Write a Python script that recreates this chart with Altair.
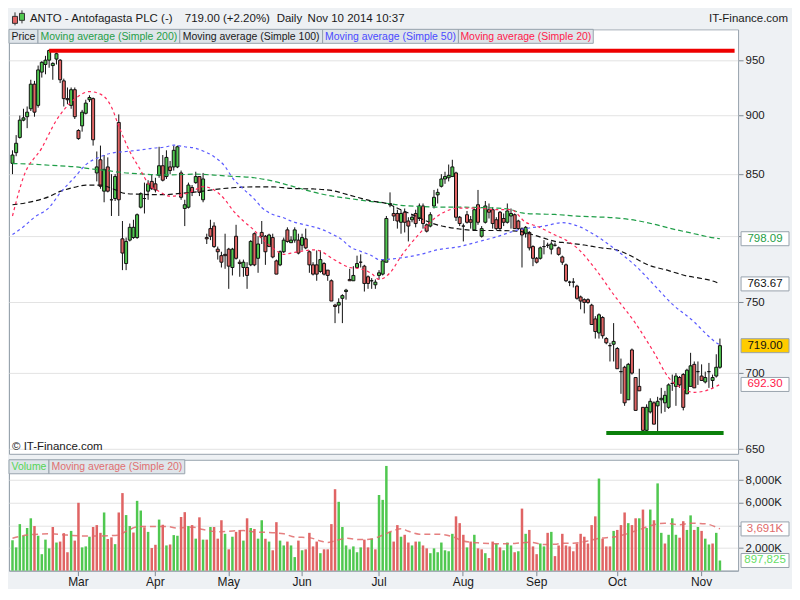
import altair as alt
import pandas as pd

# ---------------- calendar (LSE trading days) ----------------
HOLIDAYS = ["2014-04-18", "2014-04-21", "2014-05-05", "2014-05-26", "2014-08-25"]
DATES = [d.strftime("%Y-%m-%d") for d in pd.bdate_range("2014-02-05", "2014-11-10")
         if d.strftime("%Y-%m-%d") not in HOLIDAYS]
PAD_DATES = ["2014-11-11", "2014-11-12", "2014-11-13", "2014-11-14"]
MONTH_STARTS = ["2014-03-03", "2014-04-01", "2014-05-01", "2014-06-02", "2014-07-01",
                "2014-08-01", "2014-09-01", "2014-10-01", "2014-11-03"]
MONTH_LABELS = ["Mar", "Apr", "May", "Jun", "Jul", "Aug", "Sep", "Oct", "Nov"]

# ---------------- OHLC (pence) ----------------
OPEN = [859, 868, 881, 896, 899, 906, 928, 909, 939, 946,
        950, 945, 951, 950, 931, 915, 909, 923, 887, 891,
        902, 914, 915, 851, 862, 836, 856, 829, 830, 894,
        798, 779, 797, 799, 799, 823, 830, 836, 844, 842,
        849, 857, 848, 856, 856, 856, 851, 822, 823, 839,
        843, 848, 829, 799, 806, 808, 790, 785, 786, 790,
        776, 800, 780, 776, 776, 778, 802, 783, 803, 800,
        792, 799, 781, 778, 788, 805, 795, 797, 797, 793,
        798, 788, 778, 778, 773, 779, 774, 766, 748, 748,
        753, 758, 767, 766, 776, 780, 777, 769, 766, 763,
        770, 771, 780, 825, 818, 818, 811, 819, 812, 813,
        818, 814, 824, 809, 808, 824, 833, 840, 846, 847,
        848, 851, 815, 808, 817, 813, 805, 825, 800, 811,
        821, 821, 813, 819, 814, 811, 816, 817, 812, 806,
        802, 803, 792, 783, 783, 792, 793, 790, 793, 791,
        784, 778, 765, 765, 762, 754, 752, 752, 748, 738,
        728, 739, 724, 719, 720, 717, 701, 704, 682, 716,
        697, 691, 677, 662, 674, 680, 678, 682, 680, 677,
        693, 691, 697, 699, 686, 691, 706, 701, 698, 694,
        701, 695, 698, 704]
HIGH = [870, 883, 900, 906, 908, 932, 931, 945, 949, 954,
        960, 948, 957, 951, 933, 925, 925, 925, 888, 905,
        914, 918, 916, 869, 874, 866, 864, 850, 850, 901,
        812, 799, 810, 813, 818, 835, 843, 845, 850, 847,
        873, 866, 870, 861, 874, 874, 853, 829, 843, 841,
        852, 848, 851, 802, 813, 811, 792, 788, 802, 791,
        791, 809, 782, 782, 780, 797, 803, 800, 812, 801,
        802, 802, 782, 789, 799, 807, 800, 807, 802, 802,
        806, 789, 780, 789, 789, 780, 774, 767, 749, 753,
        756, 760, 775, 777, 785, 786, 778, 770, 768, 767,
        774, 782, 816, 835, 824, 821, 821, 822, 815, 817,
        821, 826, 826, 810, 819, 837, 838, 850, 852, 858,
        862, 852, 816, 810, 820, 816, 822, 837, 808, 828,
        826, 823, 815, 820, 818, 826, 822, 818, 813, 807,
        808, 804, 793, 784, 792, 797, 795, 796, 795, 792,
        785, 779, 766, 768, 763, 755, 753, 753, 749, 740,
        742, 740, 725, 721, 735, 718, 710, 705, 707, 717,
        697, 703, 677, 679, 683, 681, 684, 690, 688, 693,
        699, 700, 698, 700, 703, 714, 708, 708, 706, 701,
        707, 699, 713, 724]
LOW = [850, 865, 880, 895, 889, 904, 899, 907, 934, 937,
       943, 932, 946, 929, 908, 910, 906, 897, 879, 886,
       901, 912, 874, 844, 838, 827, 835, 816, 828, 816,
       774, 774, 796, 798, 798, 822, 818, 829, 837, 835,
       847, 844, 846, 850, 853, 855, 829, 808, 822, 832,
       842, 832, 827, 794, 797, 791, 782, 776, 775, 760,
       770, 782, 769, 769, 760, 777, 777, 772, 794, 778,
       792, 783, 771, 777, 787, 795, 795, 795, 786, 789,
       790, 772, 770, 766, 772, 770, 766, 751, 735, 742,
       735, 752, 766, 766, 776, 776, 758, 760, 760, 760,
       767, 770, 780, 823, 812, 806, 802, 803, 796, 811,
       807, 812, 806, 803, 807, 822, 826, 839, 842, 844,
       848, 812, 808, 796, 810, 806, 805, 809, 799, 810,
       814, 806, 805, 805, 808, 810, 806, 806, 805, 776,
       799, 789, 777, 779, 782, 786, 791, 786, 792, 785,
       778, 765, 762, 761, 752, 745, 742, 749, 734, 724,
       724, 724, 720, 708, 708, 703, 686, 678, 682, 699,
       675, 688, 661, 661, 673, 666, 661, 673, 674, 676,
       688, 678, 690, 675, 686, 691, 690, 692, 695, 693,
       690, 690, 697, 703]
CLOSE = [866, 876, 896, 898, 903, 928, 903, 941, 948, 950,
         959, 947, 956, 932, 915, 914, 923, 899, 880, 903,
         911, 916, 879, 856, 840, 854, 836, 829, 848, 829,
         787, 796, 807, 807, 817, 834, 830, 842, 838, 837,
         857, 845, 864, 853, 870, 873, 831, 825, 841, 835,
         848, 835, 846, 798, 800, 792, 788, 780, 785, 777,
         790, 783, 779, 780, 770, 796, 778, 794, 800, 788,
         801, 784, 771, 788, 797, 796, 797, 805, 787, 799,
         791, 778, 771, 771, 782, 771, 770, 751, 747, 750,
         755, 759, 766, 770, 779, 780, 764, 764, 766, 765,
         772, 781, 814, 826, 816, 812, 818, 811, 808, 815,
         810, 824, 810, 804, 817, 831, 835, 846, 848, 849,
         856, 815, 810, 808, 811, 811, 821, 811, 806, 824,
         819, 810, 806, 806, 811, 820, 818, 806, 806, 801,
         807, 791, 783, 780, 791, 792, 793, 794, 793, 786,
         780, 766, 765, 765, 753, 751, 750, 750, 734, 729,
         741, 726, 721, 719, 722, 703, 701, 680, 706, 700,
         675, 688, 662, 677, 681, 666, 681, 683, 685, 692,
         693, 698, 692, 677, 702, 705, 690, 701, 695, 697,
         701, 697, 704, 719]

# ---------------- volume (thousands of shares) ----------------
VOLUME = [2686, 2057, 4114, 3086, 3771, 4628, 3943, 3086, 1457, 2743,
          1971, 3857, 2486, 2571, 3314, 1628, 3514, 2657, 6000, 2057,
          2143, 3000, 3857, 4028, 3343, 5143, 2800, 2943, 2343, 5143,
          6857, 4914, 3943, 3371, 6171, 5314, 3828, 3428, 2000, 2286,
          4514, 4057, 2229, 2314, 3143, 3086, 4743, 5171, 3943, 4028,
          2829, 4714, 2743, 2743, 3857, 3857, 2829, 4457, 3257, 1886,
          3000, 3429, 3600, 2657, 4628, 3771, 3686, 2829, 4457, 2829,
          2571, 1800, 4286, 2657, 2229, 2571, 2229, 1200, 2657, 1800,
          1886, 3343, 2143, 2571, 1543, 1886, 1886, 4114, 7200, 6086,
          3857, 2229, 1886, 2143, 1628, 2057, 2743, 2057, 2829, 1886,
          6686, 6257, 9257, 3429, 2571, 4028, 3000, 3171, 2486, 2229,
          2571, 2571, 2229, 1971, 1543, 1971, 1628, 2486, 1800, 1714,
          3257, 4800, 4200, 3171, 2057, 2571, 3171, 1971, 1886, 1543,
          1114, 2571, 2400, 2057, 1800, 2486, 2229, 1628, 1714, 5486,
          3257, 3600, 2143, 1457, 2400, 2143, 3343, 3429, 1286, 2229,
          3257, 2229, 2143, 1714, 2400, 3257, 3000, 2400, 4028, 4800,
          8143, 2829, 2143, 2143, 3514, 3600, 4028, 5143, 4200, 4028,
          4628, 4628, 5400, 3771, 5400, 4457, 7714, 3343, 2400, 3171,
          4628, 3171, 2914, 4371, 3600, 4886, 3600, 3857, 3514, 2829,
          2314, 2400, 3343, 897.825]
VOL_DIR = list("GGGGGGRGGG" "GRGRRRGRRG" "GGRRRGRRGR" "RGGRGGRGRR" "GRGRGGRRGR"
               "GRGRGRRRGR" "GRRGRGRGGR" "GRRGGRGGRG" "RRRRGRRRRG" "GGGGGGRRGR"
               "GGGGRRGRRG" "RGRRGGGGGG" "GRRRGRGRRG" "RRGRGGGRGR" "GRRRGGRGRR"
               "RRRRRRRRRR" "GRRRGRRRGR" "RGRGGRGGRG" "GGRRGGRGRG" "GRGG")

# ---------------- moving averages (trading-day index, value) ----------------
SMA20_IDX = [0, 3, 8, 12, 17, 21, 24, 27, 29, 32, 35, 37, 40, 43, 45, 49, 52, 55, 58, 60,
             63, 66, 68, 71, 74, 76, 79, 82, 84, 87, 90, 92, 95, 98, 100, 103, 106, 111, 116, 122,
             127, 132, 136, 140, 143, 148, 151, 154, 159, 164, 170, 175, 179, 182, 186, 189, 192, 193]
SMA20_VAL = [816, 847.6, 872, 896, 914.7, 921.3, 919, 907.6, 890.8, 869,
             853, 842.3, 835.8, 831.9, 832.4, 835.8, 839.7, 837, 829, 821,
             812, 804.5, 798.2, 791, 786, 787, 788.5, 789.5, 788.5, 783.3,
             778.4, 776, 775, 771.3, 767, 772, 784.5, 802, 816, 822.3,
             822.3, 821, 821, 811, 808, 801, 797, 791, 774.9, 755.8,
             734.7, 714.3, 697, 690.6, 687, 688, 691, 692.3]
SMA50_IDX = [0, 3, 6, 10, 13, 17, 20, 24, 27, 31, 35, 38, 42, 44, 47, 50, 52, 55, 58, 60,
             63, 66, 68, 71, 74, 76, 79, 82, 84, 87, 90, 92, 95, 98, 100, 106, 111, 116, 122, 127,
             132, 138, 141, 145, 150, 154, 159, 164, 170, 175, 180, 186, 189, 192, 193]
SMA50_VAL = [801.3, 807.5, 815, 822.8, 834.5, 847.6, 857.8, 864.6, 867.6, 869,
             870.3, 871.7, 873, 874.4, 873, 871.7, 869.4, 864.6, 856.3, 847,
             837.8, 829.5, 822.8, 817.2, 814.6, 812, 809.5, 807.5, 805.8, 802,
             797, 792, 788.3, 785, 782, 783.3, 785.8, 789.5, 792, 795.7,
             799.5, 805, 806.5, 808, 810.7, 808.3, 800.8, 790.8, 777.2, 763,
             748.7, 735.8, 727.9, 721.1, 719.5]
SMA100_IDX = [0, 4, 10, 13, 17, 20, 24, 27, 31, 35, 38, 42, 45, 49, 52, 55, 60, 66, 71, 76,
              82, 87, 92, 98, 102, 106, 111, 114, 118, 122, 127, 132, 138, 141, 145, 148, 151, 156, 161, 164,
              168, 173, 179, 184, 188, 192, 193]
SMA100_VAL = [825, 826.7, 831.6, 835.8, 839.2, 841, 841, 838.4, 834, 833.5,
              833.2, 833.2, 834, 835, 836, 837.3, 838.8, 839.5, 839.5, 838.2,
              837.8, 836.6, 832.7, 828, 826, 821, 814.6, 810.7, 807.5, 805.7,
              804.5, 804.5, 804, 802, 798.5, 796, 794.9, 793.2, 790.8, 790,
              785.8, 778.4, 773.6, 769.6, 767.7, 764.9, 763.67]
SMA200_IDX = [0, 4, 10, 17, 22, 26, 29, 35, 40, 45, 50, 55, 60, 66, 71, 76, 79, 82, 87, 92,
              98, 102, 106, 111, 116, 122, 127, 132, 136, 139, 143, 148, 154, 159, 164, 170, 175, 180, 186, 189,
              193]
SMA200_VAL = [858.8, 858.5, 857.4, 856.1, 854.2, 852.9, 851.6, 850.2, 849.4, 849.5,
              850, 849.2, 848.2, 847, 844.3, 840.3, 837.8, 835.3, 832.1, 830,
              827.5, 826.2, 824.5, 823.6, 823.1, 823.1, 822.8, 822.3, 821, 818.4,
              817.6, 817.2, 815.9, 815.3, 814.6, 812.5, 809.5, 805.8, 802, 800,
              798.09]
VMA_IDX = [0, 4, 10, 15, 20, 26, 29, 31, 35, 38, 42, 45, 49, 52, 56, 59, 63, 66, 70, 74,
           77, 81, 84, 86, 88, 91, 95, 98, 101, 104, 106, 108, 111, 116, 120, 123, 127, 130, 134, 137,
           141, 145, 148, 150, 153, 157, 160, 164, 167, 171, 175, 178, 182, 185, 189, 193]
VMA_VAL = [2857, 3143, 3257, 3143, 3057, 3086, 3143, 3486, 3914, 3914,
           3914, 3771, 3850, 3629, 3429, 3486, 3543, 3429, 3371, 3257,
           2971, 2914, 2629, 2486, 2629, 2857, 2743, 2800, 3143, 3543,
           3714, 3486, 3229, 3229, 3000, 2629, 2457, 2400, 2371, 2400,
           2514, 2314, 2330, 2429, 2429, 2629, 2857, 2971, 3200, 3629,
           4057, 4200, 4057, 4200, 4143, 3691]

# ---------------- support / resistance & last-value boxes ----------------
RESISTANCE, RES_START = 958.7, 10
SUPPORT, SUP_START = 660.3, 162
PRICE_TICKS = [650, 700, 750, 800, 850, 900, 950]
VOL_TICKS = [2000, 4000, 6000, 8000]
PBOX_VAL = [798.09, 763.67, 719.00, 692.30]
PBOX_LBL = ["798.09", "763.67", "719.00", "692.30"]
PBOX_TXT = ["#1f9e48", "#111111", "#111111", "#ff1a4a"]
PBOX_FILL = ["#ffffff", "#ffffff", "#ffcc00", "#ffffff"]
VBOX_VAL = [3691, 897.825]
VBOX_LBL = ["3,691K", "897,825"]
VBOX_TXT = ["#e06a6a", "#66dd66"]

# ---------------- styling ----------------
W, H1, H2 = 730, 425, 111
FONT = "Liberation Sans"
AF = 11.5  # axis / box font size
BG = "#eef1f4"
GRID = "#e3e3e3"
BORDER = "#98a3ad"
TICK = "#7f8a94"
TXT = "#1a1a1a"
UP, DOWN = "#50c850", "#e06464"
VUP, VDOWN = "#4ccc4c", "#e06262"

assert len(DATES) == 194
for arr in (OPEN, HIGH, LOW, CLOSE, VOLUME, VOL_DIR):
    assert len(arr) == 194
assert len(SMA20_IDX) == len(SMA20_VAL) and len(SMA50_IDX) == len(SMA50_VAL)
assert len(SMA100_IDX) == len(SMA100_VAL) and len(SMA200_IDX) == len(SMA200_VAL)
assert len(VMA_IDX) == len(VMA_VAL)

df = pd.DataFrame({"date": DATES, "open": OPEN, "high": HIGH, "low": LOW,
                   "close": CLOSE, "vol": VOLUME, "vdir": VOL_DIR})
df["dir"] = ["up" if c >= o else "down" for o, c in zip(OPEN, CLOSE)]


def ma_frame(idx, vals):
    return pd.DataFrame({"date": [DATES[i] for i in idx], "value": vals})


xscale = alt.Scale(type="band", domain=DATES + PAD_DATES, paddingInner=0, paddingOuter=0.45)
yscale = alt.Scale(type="log", domain=[647, 979], nice=False)
vscale = alt.Scale(domain=[0, 9800], nice=False)

price_axis = alt.Axis(orient="right", values=PRICE_TICKS, format="d",
                      labelExpr="datum.value == 800 ? '' : datum.label",
                      grid=True, gridColor=GRID, domain=False, tickSize=5, tickColor=TICK,
                      labelPadding=2, labelFont=FONT, labelFontSize=AF, labelColor=TXT, title=None)
vol_axis = alt.Axis(orient="right", values=VOL_TICKS,
                    labelExpr="datum.value == 4000 ? '' : format(datum.value, ',') + 'K'",
                    grid=True, gridColor=GRID, domain=False, tickSize=5, tickColor=TICK,
                    labelPadding=2, labelFont=FONT, labelFontSize=AF, labelColor=TXT, title=None)
month_expr = "''"
for d, m in zip(reversed(MONTH_STARTS), reversed(MONTH_LABELS)):
    month_expr = f"datum.value == '{d}' ? '{m}' : ({month_expr})"
x_axis = alt.Axis(values=MONTH_STARTS, labelExpr=month_expr, bandPosition=0.5, labelAngle=0,
                  tickSize=5, tickColor=TICK, domainColor=BORDER, grid=False, labelPadding=1,
                  labelFont=FONT, labelFontSize=12, labelColor=TXT, title=None, labelOverlap=False)

XP = alt.X("date:O", scale=xscale, axis=None)
XV = alt.X("date:O", scale=xscale, axis=x_axis)
ONE = pd.DataFrame({"k": [0]})


def deco_rect(x0, x1, y0, y1, fill, stroke=None):
    kw = {"fill": fill}
    if stroke:
        kw.update(stroke=stroke, strokeWidth=1)
    return alt.Chart(ONE).mark_rect(**kw).encode(
        x=alt.value(x0), x2=alt.value(x1), y=alt.value(y0), y2=alt.value(y1))


def deco_rule(x0, x1, y0, y1, color, width=1):
    return alt.Chart(ONE).mark_rule(color=color, strokeWidth=width).encode(
        x=alt.value(x0), x2=alt.value(x1), y=alt.value(y0), y2=alt.value(y1))


def deco_text(txt, x, y, color, size=12, align="left"):
    return alt.Chart(ONE).mark_text(text=txt, align=align, baseline="middle", font=FONT,
                                    fontSize=size, color=color).encode(x=alt.value(x), y=alt.value(y))


# ---------------- price panel ----------------
base = alt.Chart(df)
wicks = base.mark_rule(color="#111111", strokeWidth=1).encode(
    x=XP, y=alt.Y("low:Q", scale=yscale, axis=price_axis), y2="high:Q")
bodies = base.mark_bar(width=3, stroke="#111111", strokeWidth=1).encode(
    x=XP, y=alt.Y("open:Q", scale=yscale, axis=price_axis), y2="close:Q",
    color=alt.Color("dir:N", scale=alt.Scale(domain=["up", "down"], range=[UP, DOWN]), legend=None))


def ma_line(idx, vals, color, dash, width=1.2):
    return alt.Chart(ma_frame(idx, vals)).mark_line(
        color=color, strokeDash=dash, strokeWidth=width, interpolate="monotone").encode(
        x=XP, y=alt.Y("value:Q", scale=yscale, axis=price_axis))


ma200 = ma_line(SMA200_IDX, SMA200_VAL, "#1f9e48", [5, 3])
ma100 = ma_line(SMA100_IDX, SMA100_VAL, "#111111", [5, 3])
ma50 = ma_line(SMA50_IDX, SMA50_VAL, "#5a5aff", [3, 3])
ma20 = ma_line(SMA20_IDX, SMA20_VAL, "#ff2a5a", [3, 3])

res_line = alt.Chart(pd.DataFrame({"date": [DATES[RES_START]], "end": [PAD_DATES[-1]],
                                   "value": [RESISTANCE]})).mark_rule(
    color="#ee0000", strokeWidth=4).encode(
    x=XP, x2="end:O", y=alt.Y("value:Q", scale=yscale, axis=price_axis))
sup_line = alt.Chart(pd.DataFrame({"date": [DATES[SUP_START]], "end": [PAD_DATES[0]],
                                   "value": [SUPPORT]})).mark_rule(
    color="#0a800a", strokeWidth=4).encode(
    x=XP, x2="end:O", y=alt.Y("value:Q", scale=yscale, axis=price_axis))

pbox_df = pd.DataFrame({"value": PBOX_VAL, "label": PBOX_LBL, "tcolor": PBOX_TXT, "fill": PBOX_FILL})
pboxes = alt.Chart(pbox_df).mark_tick(orient="horizontal", size=48, thickness=14, stroke=BORDER,
                                      strokeWidth=1, opacity=1).encode(
    x=alt.value(W + 27), y=alt.Y("value:Q", scale=yscale, axis=price_axis),
    color=alt.Color("fill:N", scale=None))
ptext = alt.Chart(pbox_df).mark_text(font=FONT, fontSize=AF, align="center", baseline="middle").encode(
    x=alt.value(W + 27), y=alt.Y("value:Q", scale=yscale, axis=price_axis), text="label:N",
    color=alt.Color("tcolor:N", scale=None))

HF = 11.5
header = [
    deco_rect(0, W + 51, -20, 0, BG),
    deco_rule(6, 6, -17, -4, "#333333"),
    deco_rect(3.5, 8.5, -13, -6, DOWN, "#333333"),
    deco_rule(13, 13, -19, -6, "#333333"),
    deco_rect(10.5, 15.5, -16, -9, UP, "#333333"),
    deco_text("ANTO - Antofagasta PLC (-)", 21, -10, TXT, HF),
    deco_text("719.00 (+2.20%)", 176, -10, TXT, HF),
    deco_text("Daily", 268, -10, TXT, HF),
    deco_text("Nov 10 2014 10:37", 299, -10, TXT, HF),
    deco_text("IT-Finance.com", W + 50, -10, TXT, HF, align="right"),
    deco_text("\u00a9 IT-Finance.com", 3, H1 - 7, TXT, HF),
]
LEG_X = [0, 29, 171, 314, 450, 585]
LEG_T = ["Price", "Moving average (Simple 200)", "Moving average (Simple 100)",
         "Moving average (Simple 50)", "Moving average (Simple 20)"]
LEG_C = [TXT, "#1f9e48", TXT, "#4a4aff", "#ff1a4a"]
legend = []
for k in range(5):
    legend.append(deco_rect(LEG_X[k], LEG_X[k + 1], 0, 14, "#dfe5ea", BORDER))
    legend.append(deco_text(LEG_T[k], (LEG_X[k] + LEG_X[k + 1]) / 2, 7.5, LEG_C[k], 10.5, "center"))

price = alt.layer(
    wicks, bodies, ma200, ma100, ma50, ma20, res_line, sup_line, pboxes, ptext, *header, *legend
).properties(width=W, height=H1)

# ---------------- volume panel ----------------
vbars = alt.Chart(df).mark_bar(width=2.5).encode(
    x=XV, y=alt.Y("vol:Q", scale=vscale, axis=vol_axis),
    color=alt.Color("vdir:N", scale=alt.Scale(domain=["G", "R"], range=[VUP, VDOWN]), legend=None))
vma = alt.Chart(ma_frame(VMA_IDX, VMA_VAL)).mark_line(
    color="#e06a6a", strokeDash=[6, 4], strokeWidth=1.5, opacity=0.85, interpolate="monotone").encode(
    x=XV, y=alt.Y("value:Q", scale=vscale, axis=vol_axis))
vbox_df = pd.DataFrame({"value": VBOX_VAL, "label": VBOX_LBL, "tcolor": VBOX_TXT})
vboxes = alt.Chart(vbox_df).mark_tick(orient="horizontal", size=48, thickness=14, stroke=BORDER,
                                      strokeWidth=1, opacity=1, color="#ffffff").encode(
    x=alt.value(W + 27), y=alt.Y("value:Q", scale=vscale, axis=vol_axis))
vtext = alt.Chart(vbox_df).mark_text(font=FONT, fontSize=AF, align="center", baseline="middle").encode(
    x=alt.value(W + 27), y=alt.Y("value:Q", scale=vscale, axis=vol_axis), text="label:N",
    color=alt.Color("tcolor:N", scale=None))
vlegend = [
    deco_rect(0, 40, 0, 14, "#dfe5ea", BORDER),
    deco_text("Volume", 20, 7.5, "#55d455", 10.5, "center"),
    deco_rect(40, 176, 0, 14, "#dfe5ea", BORDER),
    deco_text("Moving average (Simple 20)", 108, 7.5, "#e07070", 10.5, "center"),
]
volume = alt.layer(vbars, vma, vboxes, vtext, *vlegend).properties(width=W, height=H2)

chart = alt.vconcat(price, volume, spacing=3).properties(
    background=BG, padding={"left": 0, "top": 0, "right": 2, "bottom": 0}
).configure_view(stroke=BORDER, fill="white")

chart.save("out.html", embed_options={"renderer": "svg", "actions": False})
